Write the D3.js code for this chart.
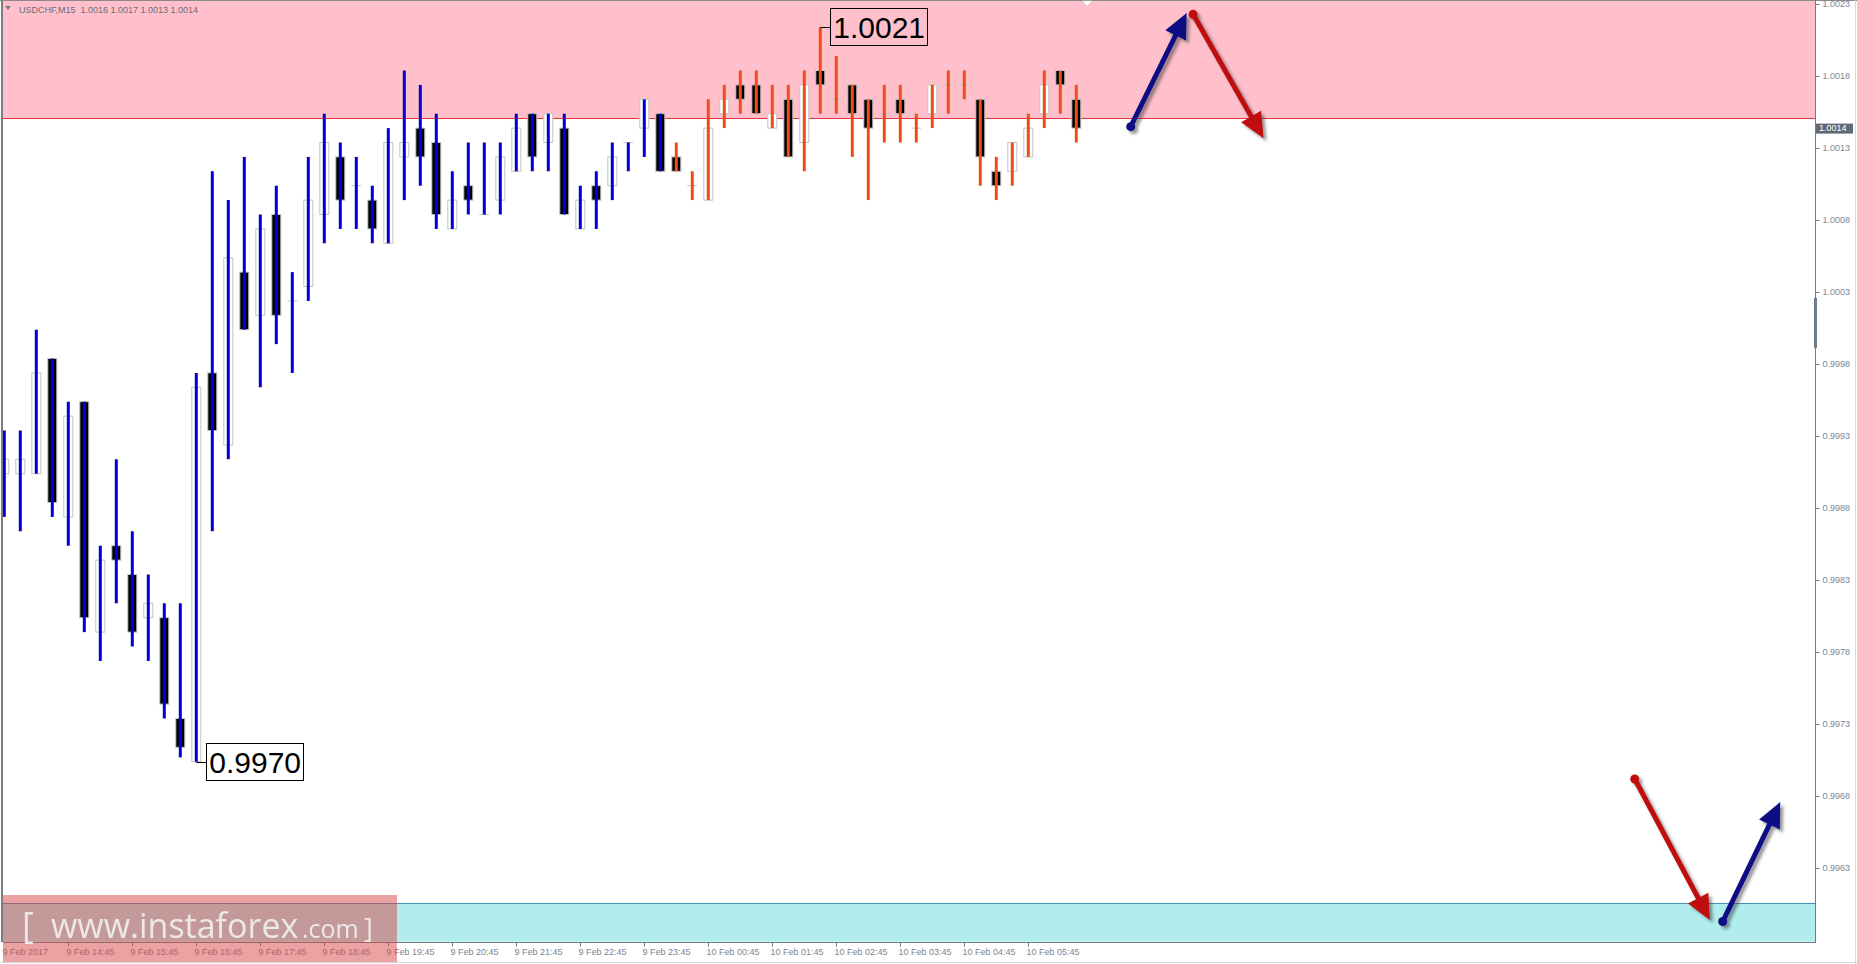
<!DOCTYPE html>
<html>
<head>
<meta charset="utf-8">
<script src="https://d3js.org/d3.v7.min.js"></script>
<style>
  body { margin: 0; background: #fff; }
  svg { display: block; font-family: "Liberation Sans", Arial, sans-serif; }
</style>
</head>
<body>
<svg id="chart" width="1857" height="964"></svg>

<script>
    // USDCHF M15, 9 Feb 2017 13:45 .. 10 Feb 2017 06:30 (one value per bar)
    const barOpen = [
        0.99900, 0.99900, 0.99900, 0.99980, 0.99870, 0.99950, 0.99790, 0.99850, 0.99830, 0.99800,
        0.99800, 0.99730, 0.99700, 0.99970, 0.99920, 1.00040, 1.00010, 1.00080, 1.00020, 1.00030,
        1.00080, 1.00120, 1.00100, 1.00090, 1.00060, 1.00120, 1.00140, 1.00130, 1.00070, 1.00100,
        1.00080, 1.00090, 1.00110, 1.00150, 1.00130, 1.00140, 1.00070, 1.00100, 1.00100, 1.00130,
        1.00140, 1.00150, 1.00120, 1.00100, 1.00090, 1.00150, 1.00170, 1.00170, 1.00140, 1.00160,
        1.00130, 1.00180, 1.00160, 1.00170, 1.00160, 1.00150, 1.00160, 1.00140, 1.00150, 1.00170,
        1.00170, 1.00160, 1.00110, 1.00110, 1.00120, 1.00150, 1.00180, 1.00160
    ];
    const barHigh = [
        0.99930, 0.99930, 1.00000, 0.99980, 0.99950, 0.99950, 0.99850, 0.99910, 0.99860, 0.99830,
        0.99810, 0.99810, 0.99970, 1.00110, 1.00090, 1.00120, 1.00080, 1.00100, 1.00040, 1.00120,
        1.00150, 1.00130, 1.00120, 1.00100, 1.00140, 1.00180, 1.00170, 1.00150, 1.00110, 1.00130,
        1.00130, 1.00130, 1.00150, 1.00150, 1.00150, 1.00150, 1.00100, 1.00110, 1.00130, 1.00130,
        1.00160, 1.00150, 1.00130, 1.00110, 1.00160, 1.00170, 1.00180, 1.00180, 1.00170, 1.00170,
        1.00180, 1.00210, 1.00190, 1.00170, 1.00160, 1.00170, 1.00170, 1.00150, 1.00170, 1.00180,
        1.00180, 1.00160, 1.00120, 1.00130, 1.00150, 1.00180, 1.00180, 1.00170
    ];
    const barLow = [
        0.99870, 0.99860, 0.99900, 0.99870, 0.99850, 0.99790, 0.99770, 0.99810, 0.99780, 0.99770,
        0.99730, 0.99703, 0.99700, 0.99860, 0.99910, 1.00000, 0.99960, 0.99990, 0.99970, 1.00020,
        1.00060, 1.00070, 1.00070, 1.00060, 1.00060, 1.00090, 1.00100, 1.00070, 1.00070, 1.00080,
        1.00080, 1.00080, 1.00110, 1.00110, 1.00110, 1.00080, 1.00070, 1.00070, 1.00090, 1.00110,
        1.00120, 1.00110, 1.00110, 1.00090, 1.00090, 1.00140, 1.00150, 1.00150, 1.00140, 1.00120,
        1.00110, 1.00150, 1.00150, 1.00120, 1.00090, 1.00130, 1.00130, 1.00130, 1.00140, 1.00150,
        1.00160, 1.00100, 1.00090, 1.00100, 1.00120, 1.00140, 1.00150, 1.00130
    ];
    const barClose = [
        0.99910, 0.99910, 0.99970, 0.99880, 0.99940, 0.99800, 0.99840, 0.99840, 0.99790, 0.99810,
        0.99740, 0.99710, 0.99960, 0.99930, 1.00050, 1.00000, 1.00070, 1.00010, 1.00020, 1.00090,
        1.00130, 1.00090, 1.00100, 1.00070, 1.00130, 1.00130, 1.00120, 1.00080, 1.00090, 1.00090,
        1.00080, 1.00120, 1.00140, 1.00120, 1.00150, 1.00080, 1.00090, 1.00090, 1.00120, 1.00130,
        1.00160, 1.00110, 1.00110, 1.00100, 1.00140, 1.00160, 1.00160, 1.00150, 1.00150, 1.00120,
        1.00170, 1.00170, 1.00160, 1.00150, 1.00140, 1.00150, 1.00150, 1.00140, 1.00170, 1.00170,
        1.00170, 1.00120, 1.00100, 1.00130, 1.00140, 1.00170, 1.00170, 1.00140
    ];
    // first bar of the second (orange) wave
    const waveBreak = 42;

    const timeLabels = ["9 Feb 2017", "9 Feb 14:45", "9 Feb 15:45", "9 Feb 16:45", "9 Feb 17:45",
        "9 Feb 18:45", "9 Feb 19:45", "9 Feb 20:45", "9 Feb 21:45", "9 Feb 22:45", "9 Feb 23:45",
        "10 Feb 00:45", "10 Feb 01:45", "10 Feb 02:45", "10 Feb 03:45", "10 Feb 04:45", "10 Feb 05:45"];
    const timeLabelBars = [0, 4, 8, 12, 16, 20, 24, 28, 32, 36, 40, 44, 48, 52, 56, 60, 64];
    const priceTicks = [1.0023, 1.0018, 1.0013, 1.0008, 1.0003, 0.9998, 0.9993,
        0.9988, 0.9983, 0.9978, 0.9973, 0.9968, 0.9963];

    const resistanceZone = [1.00147, 1.00232];
    const supportZone = [0.99575, 0.99602];

    const extremes = [
        {bar: 51, price: 1.0021, text: "1.0021"},
        {bar: 12, price: 0.9970, text: "0.9970"}
    ];

    // forecast arrows: [bar index, price]
    const arrowsFrom = [[70.4, 1.00141], [74.3, 1.00219], [101.9, 0.99688], [107.4, 0.99589]];
    const arrowsTo   = [[73.9, 1.00220], [78.7, 1.00133], [106.6, 0.99590], [111.0, 0.99672]];

    const header = "USDCHF,M15  1.0016 1.0017 1.0013 1.0014";

    const svg = d3.select("#chart");
    const plot = {left: 3, right: 1815, top: 1, bottom: 942};

    const x = d3.scaleLinear().domain([0, barOpen.length - 1])
        .range([4.3, 4.3 + 16 * (barOpen.length - 1)]);
    const y = d3.scaleLinear().domain([1.0023, 0.9963]).range([-1.5, 862.5]);

    const defs = svg.append("defs");
    defs.append("clipPath").attr("id", "plotClip")
        .append("rect")
        .attr("x", plot.left).attr("y", plot.top)
        .attr("width", plot.right - plot.left).attr("height", plot.bottom - plot.top);
    defs.append("filter").attr("id", "shadow")
        .attr("x", "-20%").attr("y", "-20%").attr("width", "140%").attr("height", "140%")
        .append("feDropShadow")
        .attr("dx", 3).attr("dy", 3).attr("stdDeviation", 1.6)
        .attr("flood-color", "#303030").attr("flood-opacity", 0.5);

    const g = svg.append("g").attr("clip-path", "url(#plotClip)");

    // zones
    g.append("rect")
        .attr("x", plot.left).attr("width", plot.right - plot.left)
        .attr("y", y(resistanceZone[1])).attr("height", y(resistanceZone[0]) - y(resistanceZone[1]))
        .attr("fill", "#ffc0cb");
    g.append("line")
        .attr("x1", plot.left).attr("x2", plot.right)
        .attr("y1", Math.round(y(resistanceZone[0])) + 0.5).attr("y2", Math.round(y(resistanceZone[0])) + 0.5)
        .attr("stroke", "#e23a3a");
    g.append("rect")
        .attr("x", plot.left).attr("width", plot.right - plot.left)
        .attr("y", y(supportZone[1])).attr("height", y(supportZone[0]) - y(supportZone[1]))
        .attr("fill", "#b1eded");
    g.append("line")
        .attr("x1", plot.left).attr("x2", plot.right)
        .attr("y1", Math.round(y(supportZone[1])) + 0.5).attr("y2", Math.round(y(supportZone[1])) + 0.5)
        .attr("stroke", "#4f8fb3");

    // candles
    const bars = d3.range(barOpen.length).map(i => ({
        i, o: barOpen[i], h: barHigh[i], l: barLow[i], c: barClose[i]
    }));

    const candle = g.selectAll(".bar").data(bars).join("g").attr("class", "bar");

    candle.filter(d => d.o !== d.c).append("rect")
        .attr("x", d => x(d.i) - 4.5)
        .attr("width", 9)
        .attr("y", d => y(Math.max(d.o, d.c)))
        .attr("height", d => Math.max(1, y(Math.min(d.o, d.c)) - y(Math.max(d.o, d.c))))
        .attr("fill", d => d.c > d.o ? "#ffffff" : "#000000")
        .attr("stroke", "#c4c4c4")
        .attr("stroke-width", 1);

    candle.filter(d => d.o === d.c).append("line")
        .attr("x1", d => x(d.i) - 5).attr("x2", d => x(d.i) + 5)
        .attr("y1", d => y(d.o)).attr("y2", d => y(d.o))
        .attr("stroke", "#c4c4c4");

    candle.append("line")
        .attr("x1", d => x(d.i)).attr("x2", d => x(d.i))
        .attr("y1", d => y(d.h)).attr("y2", d => y(d.l))
        .attr("stroke", d => d.i < waveBreak ? "#0000d2" : "#f24c16")
        .attr("stroke-width", 3);

    // extreme labels
    const ex = g.selectAll(".extreme").data(extremes).join("g").attr("class", "extreme");
    ex.append("line")
        .attr("x1", d => x(d.bar)).attr("x2", d => x(d.bar) + 10)
        .attr("y1", d => Math.round(y(d.price)) + 0.5).attr("y2", d => Math.round(y(d.price)) + 0.5)
        .attr("stroke", "#000");
    ex.append("rect")
        .attr("x", d => Math.round(x(d.bar)) + 10.5)
        .attr("y", d => Math.round(y(d.price)) - 18.5)
        .attr("width", 97).attr("height", 37)
        .attr("fill", "none").attr("stroke", "#000");
    ex.append("text")
        .attr("x", d => x(d.bar) + 13)
        .attr("y", d => y(d.price) + 11)
        .attr("font-size", 30)
        .attr("fill", "#000")
        .text(d => d.text);

    // forecast arrows
    const arrowG = svg.append("g").attr("filter", "url(#shadow)");
    arrowsFrom.forEach((f, k) => {
        const t = arrowsTo[k];
        const p0 = [x(f[0]), y(f[1])], p1 = [x(t[0]), y(t[1])];
        const up = t[1] > f[1];
        const col = up ? "#0c0c84" : "#c00a0a";
        const dx = p1[0] - p0[0], dy = p1[1] - p0[1];
        const len = Math.hypot(dx, dy);
        const ux = dx / len, uy = dy / len;
        const nx = -uy, ny = ux;
        const headL = 25, headW = 11.5;
        const bx = p1[0] - ux * headL, by = p1[1] - uy * headL;
        const a = arrowG.append("g");
        a.append("line")
            .attr("x1", p0[0]).attr("y1", p0[1])
            .attr("x2", bx + ux * 3).attr("y2", by + uy * 3)
            .attr("stroke", col).attr("stroke-width", 5);
        a.append("circle").attr("cx", p0[0]).attr("cy", p0[1]).attr("r", 4.5).attr("fill", col);
        a.append("path")
            .attr("d", d3.line()([[p1[0], p1[1]], [bx + nx * headW, by + ny * headW], [bx - nx * headW, by - ny * headW]]) + "Z")
            .attr("fill", col);
    });

    // frame
    svg.append("line").attr("x1", 2).attr("x2", 2).attr("y1", 0).attr("y2", plot.bottom)
        .attr("stroke", "#7d7d7d").attr("stroke-width", 2);
    svg.append("line").attr("x1", 0).attr("x2", 1857).attr("y1", 0.5).attr("y2", 0.5)
        .attr("stroke", "#8a8a8a");
    svg.append("line").attr("x1", 1855.5).attr("x2", 1855.5).attr("y1", 0).attr("y2", 964)
        .attr("stroke", "#d8d8d8");
    svg.append("line").attr("x1", 0).attr("x2", 1857).attr("y1", 962.5).attr("y2", 962.5)
        .attr("stroke", "#d8d8d8");
    svg.append("line").attr("x1", plot.right + 0.5).attr("x2", plot.right + 0.5)
        .attr("y1", 0).attr("y2", plot.bottom + 0.5)
        .attr("stroke", "#6f7b89");
    svg.append("line").attr("x1", plot.left).attr("x2", plot.right + 1)
        .attr("y1", plot.bottom + 0.5).attr("y2", plot.bottom + 0.5)
        .attr("stroke", "#6f7b89");

    // chart-shift marker
    svg.append("path").attr("d", "M1082,1L1092,1L1087,6Z")
        .attr("fill", "#ffffff").attr("stroke", "#d0d0d0").attr("stroke-width", 0.6);

    // price axis
    const yAxis = svg.append("g")
        .attr("transform", `translate(${plot.right + 0.5},0)`)
        .call(d3.axisRight(y).tickValues(priceTicks).tickSize(4).tickPadding(3)
            .tickFormat(d3.format(".4f")));
    yAxis.select(".domain").remove();
    yAxis.selectAll(".tick").attr("transform", d => `translate(0,${Math.round(y(d) + 5.5) + 0.5})`);
    yAxis.selectAll(".tick line").attr("stroke", "#6f7b89");
    yAxis.selectAll(".tick text").attr("fill", "#7b8693").attr("font-size", 9)
        .attr("font-family", "'Liberation Sans', Arial, sans-serif");

    // scroll marker on price scale
    svg.append("rect").attr("x", plot.right - 1).attr("y", 298).attr("width", 3).attr("height", 50)
        .attr("fill", "#6f7b89");

    // bid label
    const bid = barClose[barClose.length - 1];
    svg.append("rect").attr("x", plot.right + 1).attr("y", y(bid) - 4.5)
        .attr("width", 37).attr("height", 10).attr("fill", "#5f6a78");
    svg.append("text").attr("x", plot.right + 4).attr("y", y(bid) + 3.3)
        .attr("font-size", 9).attr("fill", "#ffffff").text(d3.format(".4f")(bid));

    // time axis
    const xAxis = svg.append("g")
        .attr("transform", `translate(0,${plot.bottom + 0.5})`)
        .call(d3.axisBottom(x).tickValues(timeLabelBars).tickSize(4).tickPadding(3)
            .tickFormat((d, k) => timeLabels[k]));
    xAxis.select(".domain").remove();
    xAxis.selectAll(".tick").attr("transform", d => `translate(${Math.round(x(d)) + 0.5},0)`);
    xAxis.selectAll(".tick line").attr("stroke", "#6f7b89")
        .attr("display", (d, k) => k === 0 ? "none" : null);
    xAxis.selectAll(".tick text")
        .attr("text-anchor", "start").attr("x", -2).attr("y", 12).attr("dy", 0)
        .attr("fill", "#7b8693").attr("font-size", 9)
        .attr("font-family", "'Liberation Sans', Arial, sans-serif");

    // header
    svg.append("path").attr("d", "M5,6L11,6L8,10Z").attr("fill", "#7a7a86");
    svg.append("text").attr("x", 19).attr("y", 12.5).attr("font-size", 9)
        .attr("fill", "#6c6c78").attr("xml:space", "preserve").style("white-space", "pre")
        .text(header);

    // watermark
    svg.append("rect").attr("x", 3).attr("y", 895).attr("width", 394).attr("height", 67)
        .attr("fill", "rgb(214,70,70)").attr("opacity", 0.5);
    const wm = svg.append("text").attr("y", 938).attr("fill", "#f2f4f4").attr("opacity", 0.88)
        .attr("font-family", "'Open Sans', sans-serif");
    wm.append("tspan").attr("x", 22).attr("font-size", 36).text("[");
    wm.append("tspan").attr("x", 51).attr("font-size", 34).text("www.instaforex");
    wm.append("tspan").attr("x", 302).attr("font-size", 25).text(".com");
    wm.append("tspan").attr("x", 364).attr("font-size", 27).text("]");
</script>
</body>
</html>
